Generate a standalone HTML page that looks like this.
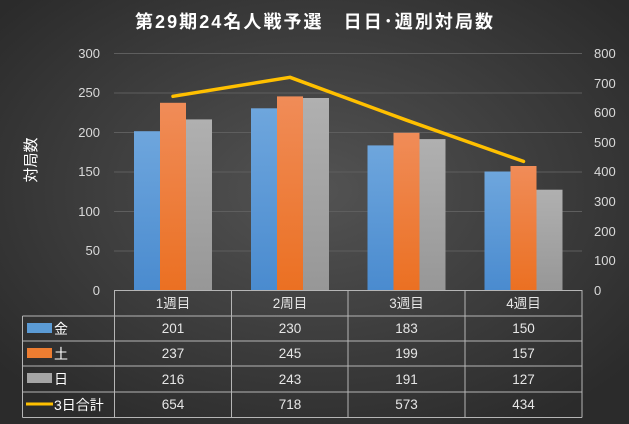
<!DOCTYPE html>
<html><head><meta charset="utf-8"><style>
html,body{margin:0;padding:0;width:629px;height:424px;overflow:hidden}
svg{display:block;font-family:"Liberation Sans","Noto Sans CJK JP",sans-serif}
</style></head><body>
<svg width="629" height="424" viewBox="0 0 629 424" xmlns="http://www.w3.org/2000/svg">
<defs>
<radialGradient id="bg" cx="50%" cy="45%" r="65%">
<stop offset="0" stop-color="#535353"/><stop offset="1" stop-color="#2b2b2b"/></radialGradient>
<linearGradient id="gb" x1="0" y1="0" x2="0" y2="1"><stop offset="0" stop-color="#6ea6dd"/><stop offset="1" stop-color="#4a8bcf"/></linearGradient>
<linearGradient id="go" x1="0" y1="0" x2="0" y2="1"><stop offset="0" stop-color="#f08c58"/><stop offset="1" stop-color="#eb7022"/></linearGradient>
<linearGradient id="gg" x1="0" y1="0" x2="0" y2="1"><stop offset="0" stop-color="#b0b0b0"/><stop offset="1" stop-color="#979797"/></linearGradient>
</defs>
<rect width="629" height="424" fill="url(#bg)"/>
<text x="314" y="28" text-anchor="middle" fill="#fff" font-size="18" font-weight="bold" textLength="358" lengthAdjust="spacing">第29期24名人戦予選　日日･週別対局数</text>
<g stroke="#5e5e5e" stroke-width="1">
<line x1="114" y1="53.5" x2="582" y2="53.5"/><line x1="114" y1="93" x2="582" y2="93"/>
<line x1="114" y1="132.5" x2="582" y2="132.5"/><line x1="114" y1="172" x2="582" y2="172"/>
<line x1="114" y1="211.5" x2="582" y2="211.5"/><line x1="114" y1="251" x2="582" y2="251"/>
</g>
<g fill="#d9d9d9" font-size="13" text-anchor="end">
<text x="100" y="58">300</text><text x="100" y="97">250</text><text x="100" y="137">200</text>
<text x="100" y="176">150</text><text x="100" y="216">100</text><text x="100" y="255">50</text><text x="100" y="295">0</text>
</g>
<g fill="#d9d9d9" font-size="13">
<text x="594" y="58">800</text><text x="594" y="88">700</text><text x="594" y="117">600</text>
<text x="594" y="147">500</text><text x="594" y="176">400</text><text x="594" y="206">300</text>
<text x="594" y="236">200</text><text x="594" y="265">100</text><text x="594" y="295">0</text>
</g>
<text transform="translate(36,160) rotate(-90)" text-anchor="middle" fill="#fff" font-size="15">対局数</text>
<g>
<rect x="134" y="131.2" width="26" height="158.8" fill="url(#gb)"/>
<rect x="160" y="102.8" width="26" height="187.2" fill="url(#go)"/>
<rect x="186" y="119.4" width="26" height="170.6" fill="url(#gg)"/>
<rect x="251" y="108.3" width="26" height="181.7" fill="url(#gb)"/>
<rect x="277" y="96.4" width="26" height="193.6" fill="url(#go)"/>
<rect x="303" y="98" width="26" height="192" fill="url(#gg)"/>
<rect x="367.5" y="145.4" width="26" height="144.6" fill="url(#gb)"/>
<rect x="393.5" y="132.8" width="26" height="157.2" fill="url(#go)"/>
<rect x="419.5" y="139.1" width="26" height="150.9" fill="url(#gg)"/>
<rect x="484.5" y="171.5" width="26" height="118.5" fill="url(#gb)"/>
<rect x="510.5" y="166" width="26" height="124" fill="url(#go)"/>
<rect x="536.5" y="189.7" width="26" height="100.3" fill="url(#gg)"/>
</g>
<polyline points="173,96.3 290,77.3 406.5,120.2 523.5,161.4" fill="none" stroke="#ffc000" stroke-width="3.5" stroke-linejoin="round" stroke-linecap="round"/>
<g stroke="#b5b5b5" stroke-width="1" fill="none">
<line x1="114.5" y1="290.5" x2="582" y2="290.5"/>
<line x1="22.5" y1="316" x2="582" y2="316"/><line x1="22.5" y1="341" x2="582" y2="341"/>
<line x1="22.5" y1="366" x2="582" y2="366"/><line x1="22.5" y1="392" x2="582" y2="392"/>
<line x1="22.5" y1="417.5" x2="582" y2="417.5"/>
<line x1="22.5" y1="316" x2="22.5" y2="417.5"/>
<line x1="114.5" y1="290" x2="114.5" y2="417.5"/><line x1="231.5" y1="290" x2="231.5" y2="417.5"/>
<line x1="348" y1="290" x2="348" y2="417.5"/><line x1="465" y1="290" x2="465" y2="417.5"/>
<line x1="582" y1="290" x2="582" y2="417.5"/>
</g>
<g fill="#e6e6e6" font-size="13.5" text-anchor="middle">
<text x="173" y="308">1週目</text><text x="290" y="308">2周目</text><text x="406.5" y="308">3週目</text><text x="523.5" y="308">4週目</text>
<text x="173" y="333">201</text><text x="290" y="333">230</text><text x="406.5" y="333">183</text><text x="523.5" y="333">150</text>
<text x="173" y="358">237</text><text x="290" y="358">245</text><text x="406.5" y="358">199</text><text x="523.5" y="358">157</text>
<text x="173" y="384">216</text><text x="290" y="384">243</text><text x="406.5" y="384">191</text><text x="523.5" y="384">127</text>
<text x="173" y="409">654</text><text x="290" y="409">718</text><text x="406.5" y="409">573</text><text x="523.5" y="409">434</text>
</g>
<rect x="27" y="323" width="25" height="10" fill="#5b9bd5"/>
<rect x="27" y="348" width="25" height="10" fill="#ed7d31"/>
<rect x="27" y="373" width="25" height="10" fill="#a5a5a5"/>
<line x1="26" y1="404" x2="53" y2="404" stroke="#ffc000" stroke-width="3"/>
<g fill="#fff" font-size="14">
<text x="54" y="334">金</text><text x="54" y="359">土</text><text x="54" y="384">日</text><text x="54" y="410">3日合計</text>
</g>
</svg>
</body></html>
